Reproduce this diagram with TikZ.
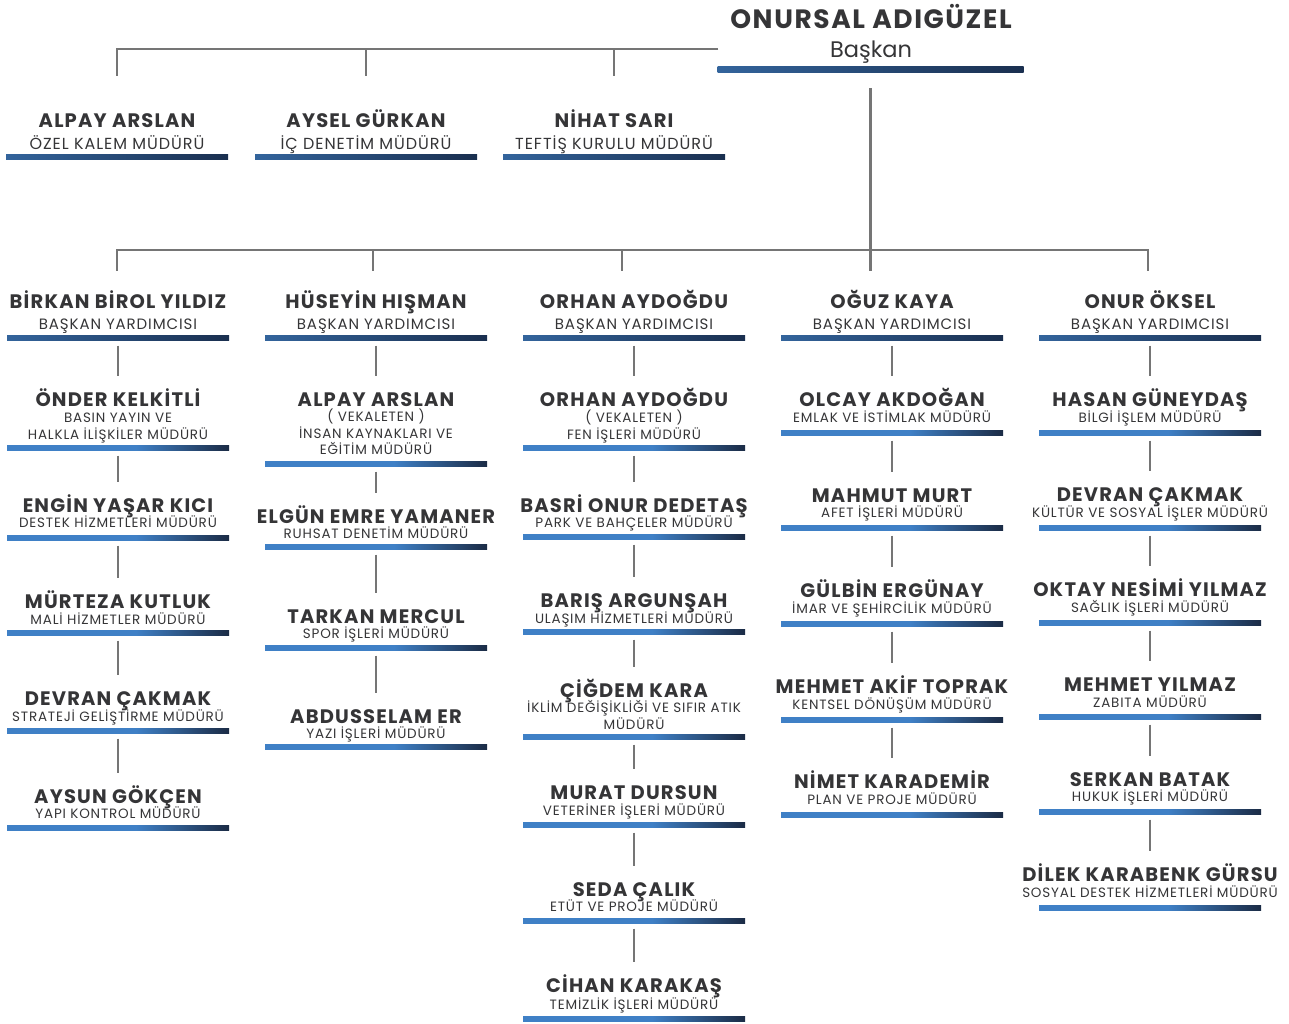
\documentclass[tikz,border=0pt]{standalone}
\usepackage{fontspec}
\setmainfont{Poppins}
\newfontfamily\spfont{Poppins}[LetterSpace=6]
\usetikzlibrary{calc}
\definecolor{txt}{HTML}{353537}
\definecolor{ln}{HTML}{757575}
\definecolor{lb}{HTML}{3F80C6}
\definecolor{nv}{HTML}{1B2B45}
\definecolor{db}{HTML}{33649C}
\definecolor{dn}{HTML}{1A2F4F}
\pgfdeclarehorizontalshading{lowshade}{100bp}{color(0bp)=(lb); color(25bp)=(lb); color(54bp)=(lb); color(75bp)=(nv); color(100bp)=(nv)}
\pgfdeclarehorizontalshading{highshade}{100bp}{color(0bp)=(db); color(25bp)=(db); color(75bp)=(dn); color(100bp)=(dn)}
\tikzset{
  nm/.style={font=\spfont\bfseries\fontsize{19.5}{21}\selectfont, text=txt, inner sep=0pt, text height=13.5pt, text depth=4pt, anchor=base},
  ttl/.style={text=txt, inner sep=0pt, align=center, anchor=north},
  ttl-top/.style={font=\spfont\fontsize{16}{18}\selectfont},
  ttl-vp/.style={font=\spfont\fontsize{15}{17}\selectfont},
  ttl-dir/.style={font=\spfont\fontsize{13.5}{16.5}\selectfont},
  bar/.style={shade, minimum width=222pt, minimum height=5pt, inner sep=0pt, draw=none},
  bar-top/.style={shading=highshade},
  bar-vp/.style={shading=highshade},
  bar-dir/.style={shading=lowshade},
  conn/.style={draw=ln, line width=2.4pt, shorten <=5pt, shorten >=16pt},
  trunk/.style={draw=ln, line width=2.4pt}
}
\newcommand\tstrut{\rule{0pt}{1em}}
% #1 kind, #2 id, #3 x, #4 y name, #5 name, #6 y title, #7 title, #8 y bar
\newcommand\pp[8]{%
  \node[nm] (n#2) at (#3,#4+7.8) {#5};
  \node[ttl,ttl-#1] (t#2) at (#3,#6-9) {\tstrut #7};
  \node[bar,bar-#1] (b#2) at (#3,#8) {};
}
\begin{document}
\begin{tikzpicture}[x=1pt,y=-1pt]
\useasboundingbox (0,0) rectangle (1289,1023);
% top
\node[nm, font=\spfont\bfseries\fontsize{26.5}{28}\selectfont, text height=18.5pt] (nTop) at (871,28.5) {ONURSAL ADIGÜZEL};
\node[font=\fontsize{22.5}{24}\selectfont, text=txt, inner sep=0pt, anchor=base] (tTop) at (871,57) {Başkan};
\node[bar, bar-top, minimum width=306pt, minimum height=5.5pt] (bTop) at (870.5,69.5) {};
% first level
\pp{top}{L1}{117}{120}{ALPAY ARSLAN}{142}{ÖZEL KALEM MÜDÜRÜ}{157}
\pp{top}{L2}{366}{120}{AYSEL GÜRKAN}{142}{İÇ DENETİM MÜDÜRÜ}{157}
\pp{top}{L3}{614}{120}{NİHAT SARI}{142}{TEFTİŞ KURULU MÜDÜRÜ}{157}
\coordinate (topjoin) at (718,49);
\draw[trunk, shorten >=38pt] (topjoin) -| (nL1.north);
\draw[trunk, shorten >=38pt] (topjoin) -| (nL2.north);
\draw[trunk, shorten >=38pt] (topjoin) -| (nL3.north);
% column 1
\pp{vp}{A1}{118}{301}{BİRKAN BİROL YILDIZ}{323}{BAŞKAN YARDIMCISI}{338}
\pp{dir}{A2}{118}{399}{ÖNDER KELKİTLİ}{418}{BASIN YAYIN VE\\HALKLA İLİŞKİLER MÜDÜRÜ}{448}
\pp{dir}{A3}{118}{505}{ENGİN YAŞAR KICI}{523}{DESTEK HİZMETLERİ MÜDÜRÜ}{538}
\pp{dir}{A4}{118}{601}{MÜRTEZA KUTLUK}{620}{MALİ HİZMETLER MÜDÜRÜ}{633}
\pp{dir}{A5}{118}{698}{DEVRAN ÇAKMAK}{717}{STRATEJİ GELİŞTİRME MÜDÜRÜ}{731}
\pp{dir}{A6}{118}{796}{AYSUN GÖKÇEN}{814}{YAPI KONTROL MÜDÜRÜ}{828}
% column 2
\pp{vp}{B1}{376}{301}{HÜSEYİN HIŞMAN}{323}{BAŞKAN YARDIMCISI}{338}
\pp{dir}{B2}{376}{399}{ALPAY ARSLAN}{417}{( VEKALETEN )\\İNSAN KAYNAKLARI VE\\EĞİTİM MÜDÜRÜ}{464}
\pp{dir}{B3}{376}{516}{ELGÜN EMRE YAMANER}{534}{RUHSAT DENETİM MÜDÜRÜ}{547}
\pp{dir}{B4}{376}{616}{TARKAN MERCUL}{634}{SPOR İŞLERİ MÜDÜRÜ}{648}
\pp{dir}{B5}{376}{716}{ABDUSSELAM ER}{734}{YAZI İŞLERİ MÜDÜRÜ}{747}
% column 3
\pp{vp}{C1}{634}{301}{ORHAN AYDOĞDU}{323}{BAŞKAN YARDIMCISI}{338}
\pp{dir}{C2}{634}{399}{ORHAN AYDOĞDU}{418}{( VEKALETEN )\\FEN İŞLERİ MÜDÜRÜ}{448}
\pp{dir}{C3}{634}{505}{BASRİ ONUR DEDETAŞ}{523}{PARK VE BAHÇELER MÜDÜRÜ}{537}
\pp{dir}{C4}{634}{600}{BARIŞ ARGUNŞAH}{619}{ULAŞIM HİZMETLERİ MÜDÜRÜ}{632}
\pp{dir}{C5}{634}{690}{ÇİĞDEM KARA}{708}{İKLİM DEĞİŞİKLİĞİ VE SIFIR ATIK\\MÜDÜRÜ}{737}
\pp{dir}{C6}{634}{792}{MURAT DURSUN}{811}{VETERİNER İŞLERİ MÜDÜRÜ}{825}
\pp{dir}{C7}{634}{889}{SEDA ÇALIK}{907}{ETÜT VE PROJE MÜDÜRÜ}{921}
\pp{dir}{C8}{634}{985}{CİHAN KARAKAŞ}{1005}{TEMİZLİK İŞLERİ MÜDÜRÜ}{1019}
% column 4
\pp{vp}{D1}{892}{301}{OĞUZ KAYA}{323}{BAŞKAN YARDIMCISI}{338}
\pp{dir}{D2}{892}{399}{OLCAY AKDOĞAN}{418}{EMLAK VE İSTİMLAK MÜDÜRÜ}{433}
\pp{dir}{D3}{892}{495}{MAHMUT MURT}{513}{AFET İŞLERİ MÜDÜRÜ}{528}
\pp{dir}{D4}{892}{590}{GÜLBİN ERGÜNAY}{609}{İMAR VE ŞEHİRCİLİK MÜDÜRÜ}{624}
\pp{dir}{D5}{892}{686}{MEHMET AKİF TOPRAK}{705}{KENTSEL DÖNÜŞÜM MÜDÜRÜ}{720}
\pp{dir}{D6}{892}{781}{NİMET KARADEMİR}{800}{PLAN VE PROJE MÜDÜRÜ}{815}
% column 5
\pp{vp}{E1}{1150}{301}{ONUR ÖKSEL}{323}{BAŞKAN YARDIMCISI}{338}
\pp{dir}{E2}{1150}{399}{HASAN GÜNEYDAŞ}{418}{BİLGİ İŞLEM MÜDÜRÜ}{433}
\pp{dir}{E3}{1150}{494}{DEVRAN ÇAKMAK}{513}{KÜLTÜR VE SOSYAL İŞLER MÜDÜRÜ}{528}
\pp{dir}{E4}{1150}{589}{OKTAY NESİMİ YILMAZ}{608}{SAĞLIK İŞLERİ MÜDÜRÜ}{623}
\pp{dir}{E5}{1150}{684}{MEHMET YILMAZ}{703}{ZABITA MÜDÜRÜ}{717}
\pp{dir}{E6}{1150}{779}{SERKAN BATAK}{797}{HUKUK İŞLERİ MÜDÜRÜ}{812}
\pp{dir}{E7}{1150}{874}{DİLEK KARABENK GÜRSU}{893}{SOSYAL DESTEK HİZMETLERİ MÜDÜRÜ}{908}
% trunk
\coordinate (hub) at (870.5,250);
\draw[trunk, shorten <=16pt] (bTop.south) -- (hub);
\draw[trunk, shorten >=24pt] (hub) -| ([xshift=-1pt]nA1.north);
\draw[trunk, shorten >=24pt] (hub) -| ([xshift=-3pt]nB1.north);
\draw[trunk, shorten >=24pt] (hub) -| ([xshift=-12pt]nC1.north);
\draw[trunk, shorten >=24pt] (hub) -- (hub |- nD1.north);
\draw[trunk, shorten >=24pt] (hub) -| ([xshift=-2pt]nE1.north);
% chains
\foreach \a/\b in {A1/A2,A2/A3,A3/A4,A4/A5,A5/A6,
                   B1/B2,B2/B3,B3/B4,B4/B5,
                   C1/C2,C2/C3,C3/C4,C4/C5,C5/C6,C6/C7,C7/C8,
                   D1/D2,D2/D3,D3/D4,D4/D5,D5/D6,
                   E1/E2,E2/E3,E3/E4,E4/E5,E5/E6,E6/E7}
  \draw[conn, shorten >=17pt] (b\a.south) -- (n\b.north);
\end{tikzpicture}
\end{document}
